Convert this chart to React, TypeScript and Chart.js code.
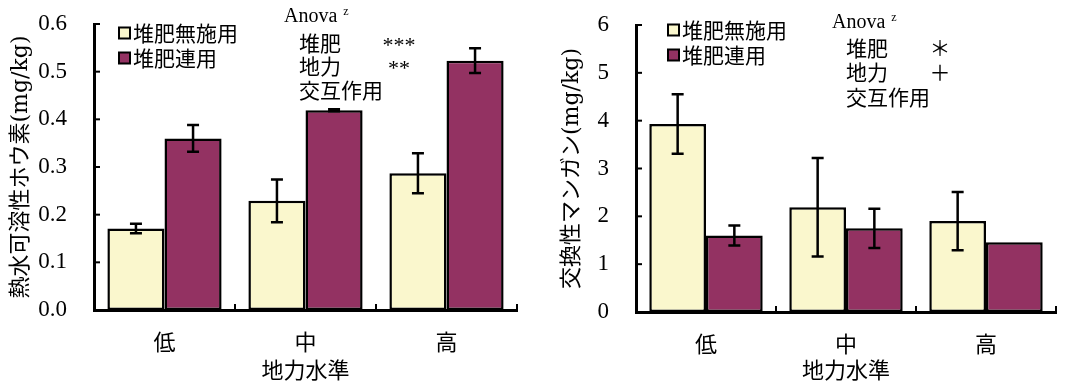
import React, { useEffect, useRef } from "react";
import { Chart, registerables } from "chart.js";

Chart.register(...registerables);

// ---- data ----
const levels = ["低", "中", "高"];
const seriesNames = ["堆肥無施用", "堆肥連用"];

const boronNoCompost = [0.171, 0.229, 0.287];
const boronCompost = [0.36, 0.419, 0.523];
const boronNoCompostErr = [0.01, 0.045, 0.042];
const boronCompostErr = [0.028, 0.002, 0.026];
const boronTickLabels = ["0.0", "0.1", "0.2", "0.3", "0.4", "0.5", "0.6"];
const boronSig = ["***", "**", ""];

const mnNoCompost = [3.93, 2.19, 1.9];
const mnCompost = [1.6, 1.75, 1.46];
const mnNoCompostErr = [0.62, 1.03, 0.61];
const mnCompostErr = [0.21, 0.41, 0];
const mnTickLabels = ["0", "1", "2", "3", "4", "5", "6"];
const mnSig = ["＊", "＋", ""];

const anovaTitle = "Anova";
const anovaSup = "z";
const anovaFactors = ["堆肥", "地力", "交互作用"];
const xTitle = "地力水準";

const COLOR_NO = "#FAF7CD";
const COLOR_YES = "#933262";
const SERIF = "'Liberation Serif', 'Noto Sans CJK JP', serif";
const TITLE_FONT = "'DejaVu Serif', 'Noto Sans CJK JP', serif";
const CJK = "'Noto Sans CJK JP', 'Liberation Serif', sans-serif";

const decorPlugin = {
  id: "panelDecor",
  afterDatasetsDraw(chart: any) {
    const p = chart.options.plugins.panelDecor;
    if (!p) return;
    const ctx = chart.ctx;
    const ys = chart.scales.y;
    const xs = chart.scales.x;
    const area = chart.chartArea;
    ctx.save();
    // error bars
    ctx.strokeStyle = "#000";
    ctx.lineWidth = 2.5;
    chart.data.datasets.forEach((ds: any, di: number) => {
      const meta = chart.getDatasetMeta(di);
      const errs = p.errors[di];
      meta.data.forEach((el: any, j: number) => {
        const e = errs[j];
        if (!e) return;
        const v = ds.data[j];
        const yTop = ys.getPixelForValue(v + e);
        const yBot = ys.getPixelForValue(v - e);
        const cap = 6;
        ctx.beginPath();
        ctx.moveTo(el.x, yTop);
        ctx.lineTo(el.x, yBot);
        ctx.moveTo(el.x - cap, yTop);
        ctx.lineTo(el.x + cap, yTop);
        ctx.moveTo(el.x - cap, yBot);
        ctx.lineTo(el.x + cap, yBot);
        ctx.stroke();
      });
    });
    // inner ticks
    ctx.lineWidth = 2;
    ys.ticks.forEach((t: any) => {
      const y = ys.getPixelForValue(t.value);
      ctx.beginPath();
      ctx.moveTo(area.left, y);
      ctx.lineTo(area.left + 6, y);
      ctx.stroke();
    });
    const n = chart.data.labels.length;
    for (let i = 0; i < n; i++) {
      const x =
        i < n - 1
          ? (xs.getPixelForValue(i) + xs.getPixelForValue(i + 1)) / 2
          : area.right;
      ctx.beginPath();
      ctx.moveTo(x, area.bottom);
      ctx.lineTo(x, area.bottom - 6);
      ctx.stroke();
    }
    // legend
    ctx.textBaseline = "middle";
    ctx.textAlign = "left";
    chart.data.datasets.forEach((ds: any, di: number) => {
      const bx = area.left + p.legendX;
      const cy = area.top + p.legendY + di * 25;
      ctx.fillStyle = ds.backgroundColor;
      ctx.fillRect(bx, cy - 5.5, 11, 11);
      ctx.lineWidth = 2;
      ctx.strokeStyle = "#000";
      ctx.strokeRect(bx, cy - 5.5, 11, 11);
      ctx.fillStyle = "#000";
      ctx.font = `21px ${CJK}`;
      ctx.fillText(ds.label, bx + 14, cy);
    });
    // anova block
    ctx.fillStyle = "#000";
    ctx.font = `20px ${SERIF}`;
    const ax = area.left + p.anovaX;
    const ay = area.top + p.anovaY;
    ctx.fillText(anovaTitle, ax, ay);
    const w = ctx.measureText(anovaTitle).width;
    ctx.font = `12px ${SERIF}`;
    ctx.fillText(anovaSup, ax + w + 6, ay - 5);
    anovaFactors.forEach((f: string, i: number) => {
      const ry = area.top + p.rowY + i * p.rowGap;
      ctx.textAlign = "left";
      ctx.font = `21px ${CJK}`;
      ctx.fillText(f, area.left + p.rowX, ry);
      if (p.sig[i]) {
        ctx.textAlign = "center";
        ctx.font = p.sigFont;
        ctx.fillText(p.sig[i], area.left + p.sigX, ry + p.sigDy);
      }
    });
    ctx.restore();
  },
};

function makeConfig(p: any) {
  return {
    type: "bar",
    data: {
      labels: levels,
      datasets: [
        {
          label: seriesNames[0],
          data: p.values[0],
          backgroundColor: COLOR_NO,
          borderColor: "#000",
          borderWidth: 2.5,
          borderSkipped: false,
          categoryPercentage: 0.81,
          barPercentage: 1.0,
        },
        {
          label: seriesNames[1],
          data: p.values[1],
          backgroundColor: COLOR_YES,
          borderColor: "#000",
          borderWidth: 2.5,
          borderSkipped: false,
          categoryPercentage: 0.81,
          barPercentage: 1.0,
        },
      ],
    },
    options: {
      animation: false,
      responsive: false,
      events: [],
      layout: { padding: { top: p.padTop, right: p.padRight, left: 0, bottom: 0 } },
      plugins: {
        legend: { display: false },
        tooltip: { enabled: false },
        panelDecor: p.decor,
      },
      scales: {
        x: {
          grid: { display: false, drawTicks: false },
          border: { display: true, color: "#000", width: 3 },
          ticks: { font: { family: CJK, size: 22 }, color: "#000", padding: 18 },
          title: {
            display: true,
            text: xTitle,
            font: { family: CJK, size: 22 },
            color: "#000",
            padding: { top: 0, bottom: 2 },
          },
          afterFit: (s: any) => {
            s.height = p.xHeight;
            s.paddingLeft = 0;
            s.paddingRight = 0;
            s.paddingTop = 0;
            s.paddingBottom = 0;
          },
        },
        y: {
          min: 0,
          max: p.max,
          grid: { display: false, drawTicks: false },
          border: { display: true, color: "#000", width: 3 },
          ticks: {
            stepSize: p.step,
            callback: (_v: any, i: number) => p.tickLabels[i],
            font: { family: SERIF, size: 23 },
            color: "#000",
            padding: 27,
          },
          title: {
            display: true,
            text: p.yTitle,
            font: { family: TITLE_FONT, size: 22 },
            color: "#000",
            padding: { top: p.yTitlePad, bottom: 0 },
          },
          afterFit: (s: any) => {
            s.width = p.yWidth;
            s.paddingTop = 0;
            s.paddingBottom = 0;
            s.paddingLeft = 0;
            s.paddingRight = 0;
          },
        },
      },
    },
    plugins: [decorPlugin],
  };
}

function Panel({ cfg, left, width }: { cfg: any; left: number; width: number }) {
  const ref = useRef<HTMLCanvasElement>(null);
  useEffect(() => {
    if (!ref.current) return;
    const chart = new Chart(ref.current, makeConfig(cfg) as any);
    return () => chart.destroy();
  }, []);
  return (
    <div style={{ position: "absolute", left, top: 0, width, height: 385 }}>
      <canvas ref={ref} width={width} height={385} style={{ display: "block" }} />
    </div>
  );
}

const boronPanel = {
  values: [boronNoCompost, boronCompost],
  max: 0.6,
  step: 0.1,
  tickLabels: boronTickLabels,
  yTitle: "熱水可溶性ホウ素(mg/kg)",
  padTop: 24,
  padRight: 13,
  xHeight: 75,
  yWidth: 94,
  yTitlePad: 8,
  decor: {
    errors: [boronNoCompostErr, boronCompostErr],
    legendX: 25,
    legendY: 9,
    anovaX: 190,
    anovaY: -7,
    rowX: 205,
    rowY: 19,
    rowGap: 23.5,
    sigX: 305,
    sigDy: 3,
    sig: boronSig,
    sigFont: `22px ${SERIF}`,
  },
};

const mnPanel = {
  values: [mnNoCompost, mnCompost],
  max: 6,
  step: 1,
  tickLabels: mnTickLabels,
  yTitle: "交換性マンガン(mg/kg)",
  padTop: 25,
  padRight: 9,
  xHeight: 73,
  yWidth: 106,
  yTitlePad: 29,
  decor: {
    errors: [mnNoCompostErr, mnCompostErr],
    legendX: 32,
    legendY: 5,
    anovaX: 196,
    anovaY: -2,
    rowX: 210,
    rowY: 23,
    rowGap: 24.5,
    sigX: 304,
    sigDy: 0,
    sig: mnSig,
    sigFont: `21px ${CJK}`,
  },
};

export default function App() {
  return (
    <div style={{ position: "absolute", left: 0, top: 0, width: 1065, height: 385, background: "#fff" }}>
      <Panel cfg={boronPanel} left={0} width={530} />
      <Panel cfg={mnPanel} left={530} width={535} />
    </div>
  );
}
